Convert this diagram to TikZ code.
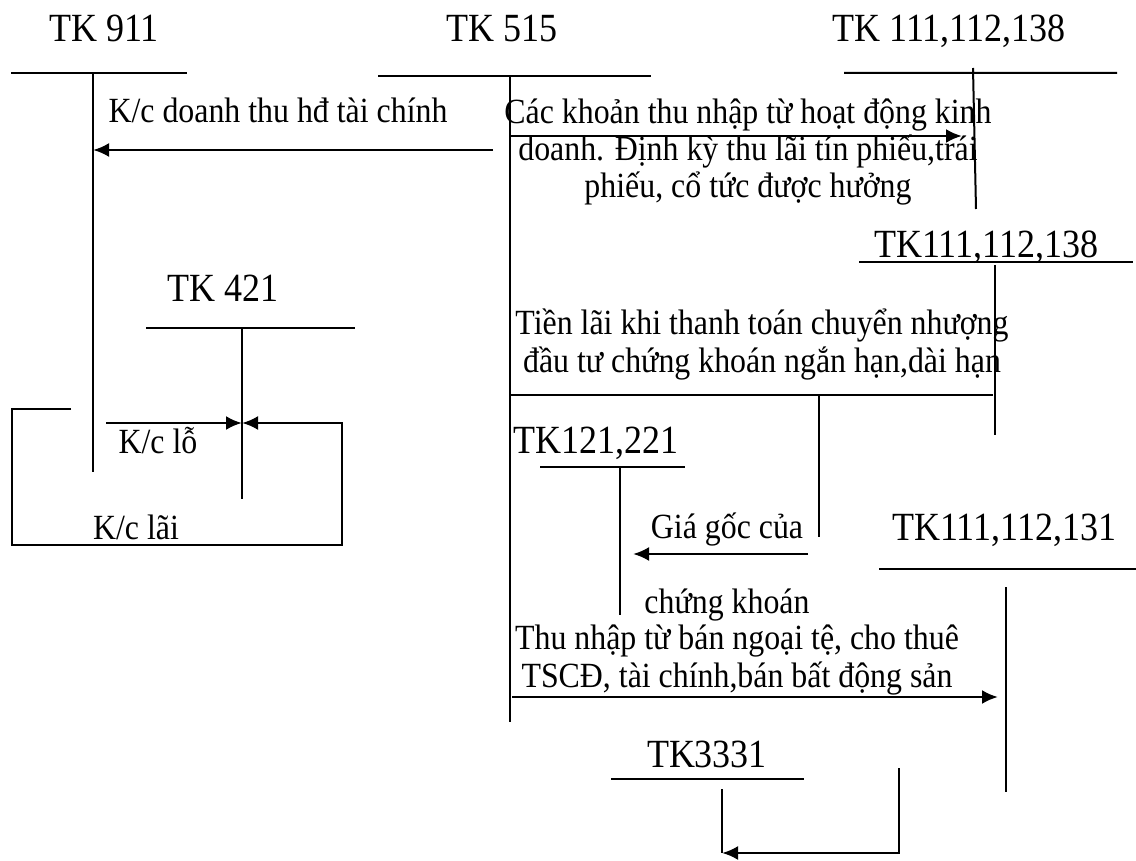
\documentclass[tikz,border=0pt]{standalone}
\usepackage{fontspec}
\setmainfont{Liberation Serif}[FakeStretch=0.9]
\usetikzlibrary{arrows.meta}
\tikzset{
  acct/.style = {font=\fontsize{20}{23}\selectfont, inner sep=0pt, anchor=base},
  lbl/.style  = {font=\fontsize{17.7}{18.6}\selectfont, inner sep=0pt, anchor=base, align=center},
  tline/.style = {line width=1pt},
  ar/.style   = {-{Latex[length=8pt,width=7pt]}, line width=1.3pt}
}

\begin{document}
\begin{tikzpicture}[x=0.5pt, y=-0.5pt]
\useasboundingbox (0,0) rectangle (1136,861);

% ---- account titles ----
\node[acct] (t911)  at (104,42)  {TK 911};
\node[acct] (t515)  at (502,42)  {TK 515};
\node[acct] (t111a) at (949,42)  {TK 111,112,138};
\node[acct] (t421)  at (223,302) {TK 421};
\node[acct] (t111b) at (986,258) {TK111,112,138};
\node[acct] (t121)  at (596,453) {TK121,221};
\node[acct] (t111c) at (1004,540) {TK111,112,131};
\node[acct] (t3331) at (707,767) {TK3331};

% ---- T-account bars ----
\draw[tline] (11,73) -- (187,73)   (93,73) -- (93,472);
\draw[tline] (378,76) -- (651,76)  (510,76) -- (510,722);
\draw[tline] (844,73) -- (1117,73) (973,68) -- (976,209);
\draw[tline] (146,328) -- (355,328) (242,328) -- (242,499);
\draw[tline] (859,262) -- (1133,262) (995,265) -- (995,435);
\draw[tline] (540,467) -- (685,467) (620,467) -- (620,615);
\draw[tline] (879,569) -- (1136,569) (1006,587) -- (1006,792);
\draw[tline] (611,779) -- (804,779) (722,789) -- (722,853);

% ---- connector ends ----
\coordinate (kcdS) at (493,150);  \coordinate (kcdE) at (93,150);
\coordinate (ckS)  at (510,136);  \coordinate (ckE)  at (962,136);
\coordinate (loS)  at (106,423);  \coordinate (loE)  at (242,423);
\coordinate (laiS) at (71,409);
\coordinate (tlS)  at (510,395);  \coordinate (tlE)  at (993,395);
\coordinate (ggS)  at (808,554);  \coordinate (ggE)  at (633,554);
\coordinate (tnS)  at (512,697);  \coordinate (tnE)  at (998,697);
\coordinate (vatS) at (899,768);  \coordinate (vatE) at (722,853);

% ---- labels (multi-line ones sit on their last baseline) ----
\node[lbl] (kcd) at (278,123) {K/c doanh thu hđ tài chính};
\node[lbl] (ck)  at (748,198) {Các khoản thu nhập từ hoạt động kinh\\
  doanh. Định kỳ thu lãi tín phiếu,trái\\ phiếu, cổ tức được hưởng};
\node[lbl] (klo)  at (158,453) {K/c lỗ};
\node[lbl] (klai) at (136,539) {K/c lãi};
\node[lbl] (tl)  at (762,372) {Tiền lãi khi thanh toán chuyển nhượng\\
  đầu tư chứng khoán ngắn hạn,dài hạn};
\node[lbl] (gg1) at (727,538) {Giá gốc của};
\node[lbl] (gg2) at (727,613) {chứng khoán};
\node[lbl] (tn)  at (737,687) {Thu nhập từ bán ngoại tệ, cho thuê\\
  TSCĐ, tài chính,bán bất động sản};

% ---- arrows ----
\draw[ar] (kcdS) -- (kcdE);
\draw[ar] (ckS) -- (ckE);
\draw[ar] (loS) -- (loE);
\draw[ar] (laiS) -- (12,409) -- (12,545) -- (342,545) -- (342,423) -- (loE);
\draw[tline] (tlS) -- (tlE)  (819,395) -- (819,537);
\draw[ar] (ggS) -- (ggE);
\draw[ar] (tnS) -- (tnE);
\draw[ar] (vatS) -- (899,853) -- (vatE);
\end{tikzpicture}
\end{document}
